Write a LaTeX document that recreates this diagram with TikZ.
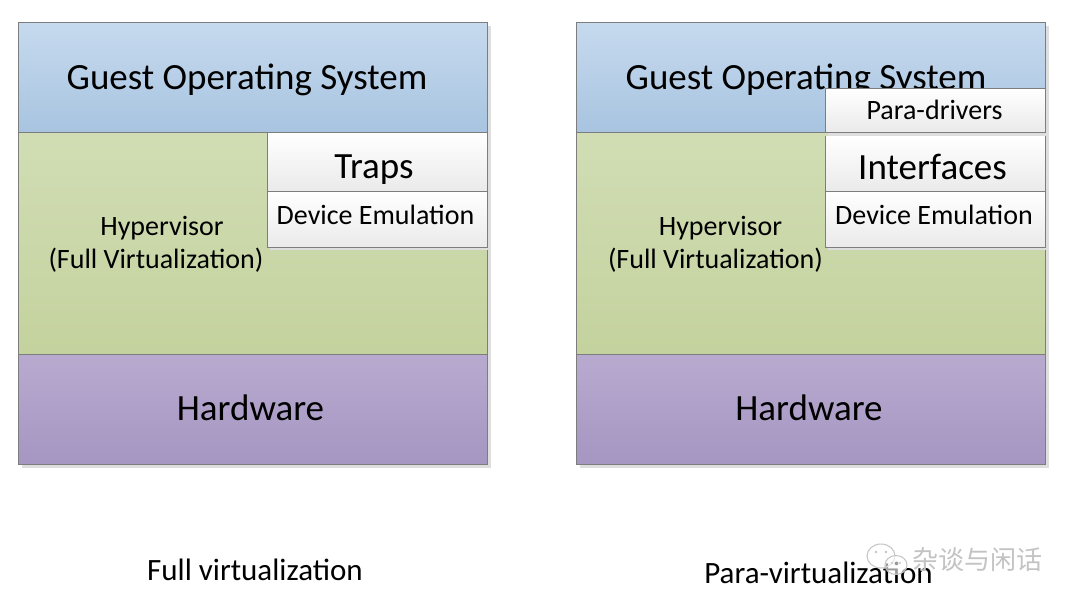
\documentclass[tikz,border=0pt]{standalone}
\usepackage{fontspec}
\setmainfont{Carlito}
\newfontfamily\cjk{Noto Sans CJK SC}
\definecolor{blueT}{RGB}{198,218,238}
\definecolor{blueB}{RGB}{168,196,224}
\definecolor{greenT}{RGB}{209,221,180}
\definecolor{greenB}{RGB}{196,210,158}
\definecolor{purpT}{RGB}{184,170,207}
\definecolor{purpB}{RGB}{165,150,194}
\definecolor{boxB}{RGB}{234,234,234}
\definecolor{edgegray}{RGB}{125,125,125}
\definecolor{shadowgray}{RGB}{222,222,222}
\definecolor{wmgray}{RGB}{195,195,195}
\begin{document}
\begin{tikzpicture}[x=1pt,y=-1pt,
  layer/.style={draw=edgegray, line width=0.9pt, minimum width=469pt, inner sep=0pt, anchor=north west},
  subbox/.style={draw=edgegray, line width=0.9pt, minimum width=220pt, inner sep=0pt, anchor=north west, top color=white, bottom color=boxB},
  big/.style={font=\fontsize{37}{40}\selectfont, inner sep=0pt, anchor=base},
  mid/.style={font=\fontsize{28}{32}\selectfont, inner sep=0pt, anchor=base},
  captext/.style={font=\fontsize{31}{34}\selectfont, inner sep=0pt, anchor=base}]
\useasboundingbox (0,0) rectangle (1080,608);
\fill[white] (0,0) rectangle (1080,608);

% ---------- left: full virtualization ----------
\fill[shadowgray] (22,26) rectangle (491,468);
\node[layer, top color=blueT, bottom color=blueB, minimum height=110pt] (gos1) at (18,22) {};
\node[layer, top color=greenT, bottom color=greenB, minimum height=222pt] (hyp1) at (18,132) {};
\node[layer, top color=purpT, bottom color=purpB, minimum height=110pt] (hw1) at (18,354) {};
\node[big] (gost1) at (247,89) {Guest Operating System};
\node[mid] (hypt1) at (162,235) {Hypervisor};
\node[mid] (fvt1) at (156,268) {(Full Virtualization)};
\node[big] (hwt1) at (250.5,420) {Hardware};
\fill[shadowgray] (270,135) rectangle (490,250);
\node[subbox, minimum height=59pt] (traps) at (267,132) {};
\node[subbox, minimum height=56pt] (dev1) at (267,191) {};
\node[big] (trapst) at (374,178) {Traps};
\node[mid] (dev1t) at (375.5,224) {Device Emulation};
\node[captext] (cap1) at (255,580) {Full virtualization};

% ---------- right: para-virtualization ----------
\fill[shadowgray] (580,26) rectangle (1049,468);
\node[layer, top color=blueT, bottom color=blueB, minimum height=110pt] (gos2) at (576,22) {};
\node[layer, top color=greenT, bottom color=greenB, minimum height=222pt] (hyp2) at (576,132) {};
\node[layer, top color=purpT, bottom color=purpB, minimum height=110pt] (hw2) at (576,354) {};
\node[big] (gost2) at (806,89) {Guest Operating System};
\node[mid] (hypt2) at (720.5,235) {Hypervisor};
\node[mid] (fvt2) at (715.5,268) {(Full Virtualization)};
\node[big] (hwt2) at (809,420) {Hardware};
\fill[shadowgray] (828,91) rectangle (1048,136);
\node[subbox, minimum height=44pt] (pdrv) at (825,88) {};
\fill[shadowgray] (828,139) rectangle (1048,250);
\node[subbox, minimum height=55pt, draw=none] (intf) at (825,136) {};
\draw[edgegray, line width=0.9pt] (intf.north west) -- (intf.south west) -- (intf.south east) -- (intf.north east);
\node[subbox, minimum height=56pt] (dev2) at (825,191) {};
\node[mid] (pdrvt) at (934.5,119) {Para-drivers};
\node[big] (intft) at (932.5,179) {Interfaces};
\node[mid] (dev2t) at (934,224) {Device Emulation};
\node[captext] (cap2) at (818.5,583) {Para-virtualization};

% ---------- watermark ----------
\draw[wmgray, line width=1pt] (881,556) ellipse (14pt and 12pt);
\fill[white, opacity=0.6] (896,565) ellipse (11pt and 9.5pt);
\draw[wmgray, line width=1pt] (896,565) ellipse (11pt and 9.5pt);
\fill[wmgray] (876,552) circle (1.4pt) (886,552) circle (1.4pt)
  (892,563) circle (1.2pt) (900,563) circle (1.2pt);
\node[font=\cjk\fontsize{26}{28}\selectfont, text=wmgray, inner sep=0pt] (wm) at (977,560) {杂谈与闲话};
\end{tikzpicture}
\end{document}
